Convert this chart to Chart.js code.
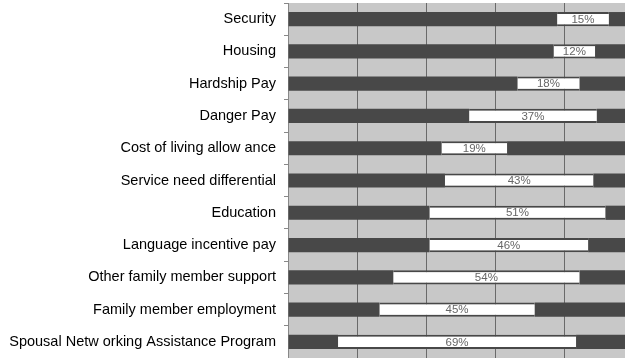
<!DOCTYPE html>
<html>
<head>
<meta charset="utf-8">
<script src="https://cdn.jsdelivr.net/npm/chart.js@4/dist/chart.umd.min.js"></script>
<style>
  html, body { margin: 0; padding: 0; background: #ffffff; }
  #wrap { width: 625px; height: 358px; overflow: hidden; position: relative; }
  canvas { display: block; }
</style>
</head>
<body>
<div id="wrap"><canvas id="c" width="634" height="358"></canvas></div>
<script>
// Benefit categories, top to bottom
const categories = [
  'Security',
  'Housing',
  'Hardship Pay',
  'Danger Pay',
  'Cost of living allow ance',
  'Service need differential',
  'Education',
  'Language incentive pay',
  'Other family member support',
  'Family member employment',
  'Spousal Netw orking Assistance Program'
];

// Share of responses (%) in each segment of the stacked bar
const leftShare   = [78, 77, 66.5, 52.5, 44.5, 45.5, 41, 41, 30.5, 26.5, 14.5];
const middleShare = [15, 12, 18, 37, 19, 43, 51, 46, 54, 45, 69];
const rightShare  = [7, 11, 15.5, 10.5, 36.5, 11.5, 8, 13, 15.5, 28.5, 16.5];

// Value axis ticks (percent)
const xTicks = [0, 20, 40, 60, 80, 100];

const DARK = '#484848';
const LIGHT = '#c8c8c8';

// Light plot background behind the bars
const plotBackground = {
  id: 'plotBackground',
  beforeDraw(chart) {
    const { ctx, chartArea: a } = chart;
    ctx.save();
    ctx.fillStyle = LIGHT;
    ctx.fillRect(a.left, a.top, a.right - a.left, a.bottom - a.top);
    ctx.restore();
  }
};

// Percentage labels centred in the white segments
const middleLabels = {
  id: 'middleLabels',
  afterDatasetsDraw(chart) {
    const { ctx } = chart;
    const meta = chart.getDatasetMeta(1);
    ctx.save();
    ctx.font = '11.5px "Liberation Sans", Arial, sans-serif';
    ctx.fillStyle = '#666666';
    ctx.textAlign = 'center';
    ctx.textBaseline = 'middle';
    meta.data.forEach((bar, i) => {
      const cx = (bar.x + bar.base) / 2;
      ctx.fillText(middleShare[i] + '%', cx, bar.y + 0.5);
    });
    ctx.restore();
  }
};

const barStyle = { categoryPercentage: 1, barPercentage: 0.44, borderSkipped: false };

new Chart(document.getElementById('c'), {
  type: 'bar',
  data: {
    labels: categories,
    datasets: [
      { label: 'left', data: leftShare, backgroundColor: DARK, borderWidth: 0, ...barStyle },
      { label: 'middle', data: middleShare, backgroundColor: '#ffffff',
        borderColor: DARK, borderWidth: { top: 2, bottom: 2, left: 0, right: 0 }, ...barStyle },
      { label: 'right', data: rightShare, backgroundColor: DARK, borderWidth: 0, ...barStyle }
    ]
  },
  options: {
    indexAxis: 'y',
    responsive: false,
    animation: false,
    layout: { padding: { top: 3, right: 1, bottom: 0, left: 0 } },
    plugins: {
      legend: { display: false },
      tooltip: { enabled: false }
    },
    scales: {
      x: {
        stacked: true,
        min: xTicks[0],
        max: xTicks[xTicks.length - 1],
        afterBuildTicks(scale) { scale.ticks = xTicks.map(v => ({ value: v })); },
        ticks: { display: false },
        border: { display: false },
        grid: { color: '#6a6a6a', lineWidth: 1, drawTicks: false },
        afterFit(scale) {
          scale.height = 0;
          scale.paddingLeft = 0; scale.paddingRight = 0;
          scale.paddingTop = 0; scale.paddingBottom = 0;
        }
      },
      y: {
        stacked: true,
        ticks: {
          color: '#000000',
          padding: 8,
          font: { family: '"Liberation Sans", Arial, sans-serif', size: 14.5 }
        },
        grid: { drawOnChartArea: false, drawTicks: true, tickLength: 4, color: '#888888' },
        border: { display: true, color: '#888888', width: 1 },
        afterFit(scale) {
          scale.width = 288;
          scale.paddingTop = 0; scale.paddingBottom = 0;
          scale.paddingLeft = 0; scale.paddingRight = 0;
        }
      }
    }
  },
  plugins: [plotBackground, middleLabels]
});
</script>
</body>
</html>
